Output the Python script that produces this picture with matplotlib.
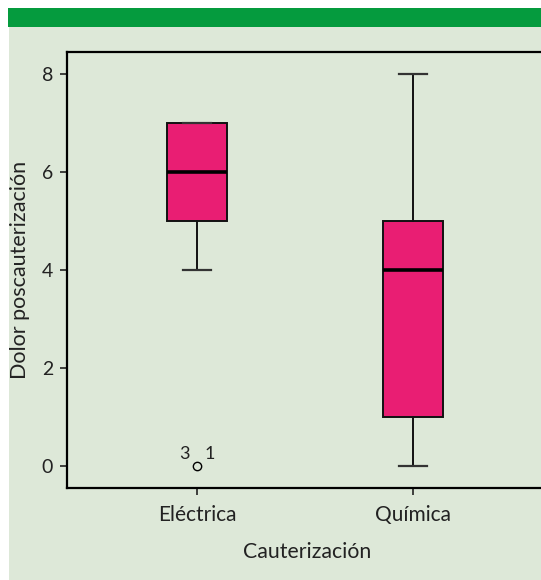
import matplotlib.pyplot as plt
from matplotlib.patches import Rectangle

# data
groups = ["Eléctrica", "Química"]
medians = [6, 4]
q1 = [5, 1]
q3 = [7, 5]
whisk_lo = [4, 0]
whisk_hi = [7, 8]
outliers = [[0], []]
outlier_ids = [["3", "1"], []]
yticks = [0, 2, 4, 6, 8]

PINK = "#E91E73"
PANEL = "#DDE8D8"
GREEN = "#059B3E"
plt.rcParams['font.family'] = ['Lato', 'DejaVu Sans']

W, H = 541, 580
fig = plt.figure(figsize=(W / 100, H / 100), dpi=100)

# green stripe and pale panel behind everything
fig.patches.append(Rectangle((8 / W, 1 - 27 / H), 1, 19 / H, transform=fig.transFigure,
                             facecolor=GREEN, edgecolor='none', zorder=-5))
fig.patches.append(Rectangle((9 / W, 0), 1, 1 - 27 / H, transform=fig.transFigure,
                             facecolor=PANEL, edgecolor='none', zorder=-5))

left, right, top, bottom = 67, 560, 52, 488
ax = fig.add_axes([left / W, 1 - bottom / H, (right - left) / W, (bottom - top) / H])
ax.set_facecolor('none')
ax.set_zorder(5)

stats = []
for i, g in enumerate(groups):
    stats.append({'label': g, 'med': medians[i], 'q1': q1[i], 'q3': q3[i],
                  'whislo': whisk_lo[i], 'whishi': whisk_hi[i], 'fliers': outliers[i]})

pos = [1, 2]
ax.bxp(stats, positions=pos, widths=0.278, patch_artist=True,
       boxprops=dict(facecolor=PINK, edgecolor='#111111', linewidth=1.4),
       medianprops=dict(color='black', linewidth=2.6),
       whiskerprops=dict(color='#111111', linewidth=1.4),
       capprops=dict(color='#333333', linewidth=1.6),
       capwidths=0.13,
       flierprops=dict(marker='o', markersize=6, markerfacecolor='none',
                       markeredgecolor='black', markeredgewidth=1.0))

# case numbers beside the outlier
for i, ids in enumerate(outlier_ids):
    if ids:
        y = outliers[i][0]
        ax.text(pos[i] - 0.035, y + 0.08, ids[0], ha='right', va='bottom', fontsize=13, color='#222222')
        ax.text(pos[i] + 0.035, y + 0.08, ids[1], ha='left', va='bottom', fontsize=13, color='#222222')

ax.set_xlim(1 - 130 / 216, 1 + (right - 197) / 216)
ax.set_ylim(-0.45, 8.45)
ax.set_yticks(yticks)
ax.set_xticks(pos)
ax.set_xticklabels(groups)
ax.tick_params(labelsize=14, colors='#222222', length=5, width=1.2, pad=5)
ax.tick_params(axis='x', labelsize=15, pad=7)

for s in ax.spines.values():
    s.set_linewidth(1.6)
    s.set_color('black')
ax.spines['right'].set_visible(False)

ax.set_xlabel("Cauterización", fontsize=15.3, color='#222222')
ax.xaxis.set_label_coords((307 - left) / (right - left), -54 / (bottom - top))
ax.set_ylabel("Dolor poscauterización", fontsize=15.5, color='#222222')
ax.yaxis.set_label_coords(-37 / (right - left), 0.5)

fig.savefig("out.png", dpi=100, facecolor='white')
